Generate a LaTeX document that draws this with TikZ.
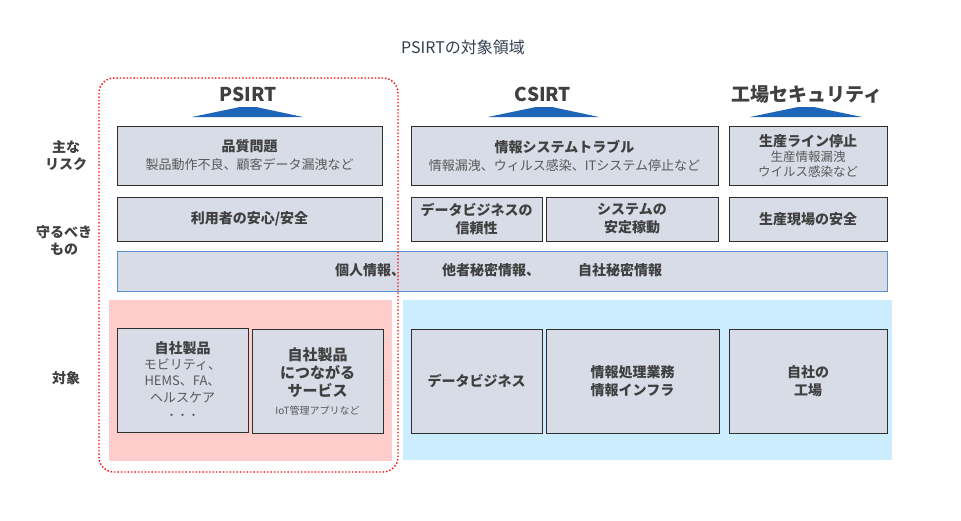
\documentclass[tikz,border=0pt]{standalone}
\usepackage{fontspec}
\setmainfont{Noto Sans CJK JP}
\newfontfamily\jp{Noto Sans CJK JP}
\definecolor{boxfill}{HTML}{D7DCE6}
\definecolor{boxline}{HTML}{2F2F2F}
\definecolor{txt}{HTML}{595959}
\definecolor{txtb}{HTML}{404040}
\definecolor{pinkbg}{HTML}{FFCCCC}
\definecolor{bluebg}{HTML}{CCECFF}
\definecolor{bandline}{HTML}{5B8FD0}
\definecolor{tri}{HTML}{1E64B8}
\definecolor{titlec}{HTML}{333F50}
\newcommand{\bT}[1]{{\bfseries\fontsize{14}{14}\selectfont\color{txtb}#1}}
\newcommand{\bU}[1]{{\bfseries\fontsize{15}{15}\selectfont\color{txtb}#1}}
\tikzset{
  box/.style={draw=boxline, line width=0.9pt, fill=boxfill, inner sep=0pt, align=center, text=txt},
  band/.style={draw=bandline, line width=1pt, fill=boxfill, inner sep=0pt},
  hd/.style={font=\jp\bfseries\fontsize{19}{21}\selectfont, text=txtb, inner sep=0pt},
  side/.style={font=\jp\bfseries\fontsize{14}{17}\selectfont, text=txtb, align=center, inner sep=0pt},
  bt/.style={font=\jp\bfseries\fontsize{14}{18}\selectfont, text=txtb},
  bandtxt/.style={font=\jp\bfseries\fontsize{14}{16}\selectfont, text=txtb, inner sep=0pt, anchor=west},
  tri/.style={fill=tri, draw=none}
}
\begin{document}
\begin{tikzpicture}[x=1pt,y=-1pt]
\useasboundingbox (0,0) rectangle (961,520);
\fill[white] (0,0) rectangle (961,520);
% title
\node[font=\jp\fontsize{16}{18}\selectfont, text=titlec, inner sep=0pt] (title) at (463,47) {PSIRTの対象領域};
% background areas
\fill[pinkbg] (109,300) rectangle (392,461);
\fill[bluebg] (403,300) rectangle (892,460);
% headings
\node[hd] (hp) at (248,94) {PSIRT};
\node[hd] (hc) at (543,94) {CSIRT};
\node[hd] (hf) at (807,94) {工場セキュリティ};
\fill[tri] (192,117) -- (240,107) -- (256,107) -- (303,117) -- cycle;
\fill[tri] (488,117) -- (536,107) -- (552,107) -- (599,117) -- cycle;
\fill[tri] (750,117) -- (798,107) -- (814,107) -- (862,117) -- cycle;
% side labels
\node[side] (s1) at (66,156) {主な\\リスク};
\node[side] (s2) at (64,240) {守るべき\\もの};
\node[side] (s3) at (66,378) {対象};
% row 1
\node[box, font=\jp\fontsize{13}{18}\selectfont, minimum width=265pt, minimum height=59pt] (r1a) at (249.5,155.5)
  {\bT{品質問題}\\製品動作不良、顧客データ漏洩など};
\node[box, font=\jp\fontsize{13}{18}\selectfont, minimum width=307pt, minimum height=59pt] (r1b) at (564.5,155.5)
  {\bT{情報システムトラブル}\\情報漏洩、ウィルス感染、ITシステム停止など};
\node[box, font=\jp\fontsize{12.5}{15}\selectfont, minimum width=158pt, minimum height=59pt] (r1c) at (808,155.5)
  {\bT{生産ライン停止}\\生産情報漏洩\\ウイルス感染など};
% row 2
\node[box, bt, minimum width=265pt, minimum height=44pt] (r2a) at (249.5,219) {利用者の安心/安全};
\node[box, bt, minimum width=131pt, minimum height=44pt] (r2b) at (476.5,219) {データビジネスの\\信頼性};
\node[box, bt, minimum width=172pt, minimum height=44pt] (r2c) at (632,219) {システムの\\安定稼動};
\node[box, bt, minimum width=158pt, minimum height=44pt] (r2d) at (808,219) {生産現場の安全};
% band
\node[band, minimum width=770pt, minimum height=40pt] (band) at (502,271) {};
\node[bandtxt] (b1) at (335,270) {個人情報、};
\node[bandtxt] (b2) at (442,270) {他者秘密情報、};
\node[bandtxt] (b3) at (578,270) {自社秘密情報};
% row 4
\node[box, font=\jp\fontsize{13}{16.5}\selectfont, minimum width=131pt, minimum height=104pt] (r4a) at (182.5,380)
  {\bT{自社製品}\\モビリティ、\\HEMS、FA、\\ヘルスケア\\{\fontsize{11}{11}\selectfont ・・・}};
\node[box, font=\jp\fontsize{10}{18}\selectfont, minimum width=131pt, minimum height=104pt] (r4b) at (317.5,381)
  {\bU{自社製品}\\\bU{につながる}\\\bU{サービス}\\IoT管理アプリなど};
\node[box, bt, minimum width=131pt, minimum height=104pt] (r4c) at (476.5,381) {データビジネス};
\node[box, bt, minimum width=173pt, minimum height=104pt] (r4d) at (632.5,381) {情報処理業務\\情報インフラ};
\node[box, bt, minimum width=158pt, minimum height=104pt] (r4e) at (808,381) {自社の\\工場};
% PSIRT scope outline
\draw[red, dotted, line width=1.4pt, rounded corners=15pt] (99,78) rectangle (398,472);
\end{tikzpicture}
\end{document}
